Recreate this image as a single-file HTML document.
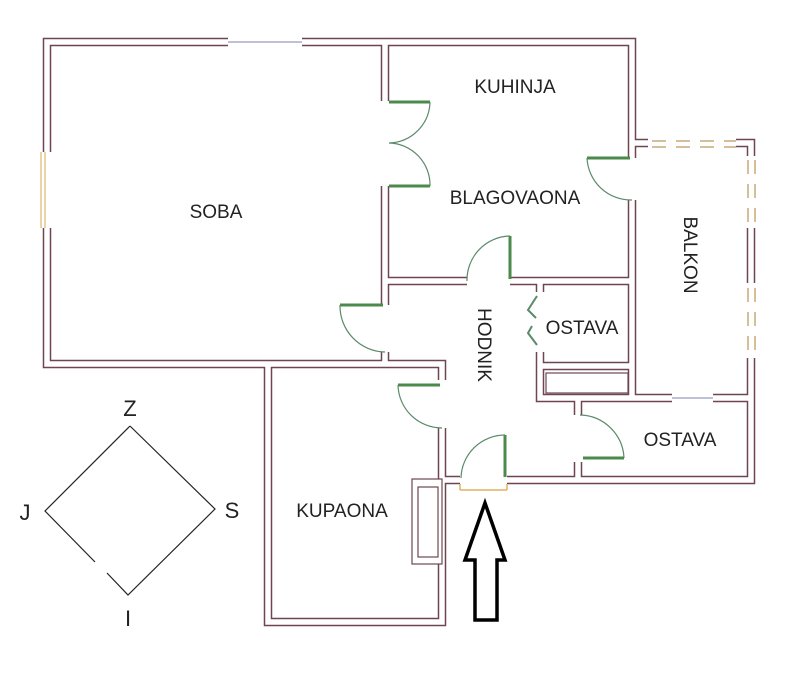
<!DOCTYPE html>
<html><head><meta charset="utf-8"><style>
html,body{margin:0;padding:0;background:#fff;}
svg{display:block;}
text{font-family:"Liberation Sans","DejaVu Sans",sans-serif;fill:#222;}
</style></head><body>
<svg width="800" height="690" viewBox="0 0 800 690" xmlns="http://www.w3.org/2000/svg">
<rect width="800" height="690" fill="#fff"/>
<g fill="none" stroke-linejoin="miter" stroke-linecap="butt">
<g stroke="#6e4550" stroke-width="8.5">
<path d="M228,42 H47 V152 M47,228 V364 H442 V380 M442,428 V622 H268 V364"/>
<path d="M302,42 H632 V158 M632,143 H648 M632,200 V398"/>
<path d="M385,42 V101 M385,186 V305 M385,352 V364"/>
<path d="M385,281 H467 M510,281 H632"/>
<path d="M540,281 V292 M540,352 V398 H578 M540,366 H632"/>
<path d="M578,398 H672 M713,398 H751 V358 M751,398 V480 H507 M578,398 V415 M578,462 V480"/>
<path d="M460,480 H442"/>
<path d="M736,143 H751 V156 M751,228 V283"/>
</g>
<g stroke="#fff" stroke-width="5.5">
<path d="M228,42 H47 V152 M47,228 V364 H442 V380 M442,428 V622 H268 V364"/>
<path d="M302,42 H632 V158 M632,143 H648 M632,200 V398"/>
<path d="M385,42 V101 M385,186 V305 M385,352 V364"/>
<path d="M385,281 H467 M510,281 H632"/>
<path d="M540,281 V292 M540,352 V398 H578 M540,366 H632"/>
<path d="M578,398 H672 M713,398 H751 V358 M751,398 V480 H507 M578,398 V415 M578,462 V480"/>
<path d="M460,480 H442"/>
<path d="M736,143 H751 V156 M751,228 V283"/>
</g>
<rect x="546" y="373" width="82" height="20" stroke="#6e4550" stroke-width="1.2"/>
<rect x="412" y="479" width="30" height="85" fill="#fff" stroke="#6e4550" stroke-width="1.2"/>
<rect x="418" y="487" width="20" height="70" stroke="#6e4550" stroke-width="1.2"/>
<path d="M228,42 H302 M672,398 H713" stroke="#9a9ac0" stroke-width="1.2"/>
<path d="M41,152 V228 M45,152 V228" stroke="#e0b870" stroke-width="1.2"/>
<g stroke="#c8a878" stroke-width="1.5" stroke-dasharray="14,10">
<path d="M652,141 H736 M652,147 H736"/>
<path d="M748,160 V228 M755,160 V228 M748,288 V356 M755,288 V356"/>
</g>
<g stroke="#4a8a4a" stroke-width="3">
<path d="M389,102 H430 M389,186 H430 M587,158 H630 M510,236 V279 M398,385 H440 M340,305 H383 M583,458 H624 M505,435 V477"/>
</g>
<g stroke="#5a8a6a" stroke-width="1.2">
<path d="M430,102 A42,42 0 0 1 389,143 M430,186 A42,42 0 0 0 389,143"/>
<path d="M587,158 A44,44 0 0 0 632,200"/>
<path d="M510,236 A44,44 0 0 0 467,281"/>
<path d="M340,305 A46,46 0 0 0 385,352"/>
<path d="M398,385 A44,44 0 0 0 442,428"/>
<path d="M624,458 A45,45 0 0 0 580,415"/>
<path d="M505,435 A44,44 0 0 0 461,478"/>
<path d="M537,296 L528,310 L536,318 M537,345 L528,333 L532,326" stroke-width="2"/>
</g>
<path d="M460,490 H507 M460,484 V490 M507,484 V490" stroke="#e0b060" stroke-width="1.5"/>
<path d="M485,503 L465,560 L475,560 L475,620 L497,620 L497,560 L505,560 Z" stroke="#000" stroke-width="3.5"/>
<path d="M130,426 L215,509 L128,595 L107,573 M95,562 L45,511 L130,426" stroke="#222" stroke-width="1.2"/>
</g>
<g font-size="19">
<text x="216" y="218" text-anchor="middle">SOBA</text>
<text x="515" y="93" text-anchor="middle">KUHINJA</text>
<text x="515" y="204" text-anchor="middle">BLAGOVAONA</text>
<text x="582" y="334" text-anchor="middle">OSTAVA</text>
<text x="680" y="446" text-anchor="middle">OSTAVA</text>
<text x="342" y="517" text-anchor="middle">KUPAONA</text>
<text transform="translate(684,255) rotate(90)" text-anchor="middle">BALKON</text>
<text transform="translate(478,345) rotate(90)" text-anchor="middle">HODNIK</text>
</g>
<g font-size="22">
<text x="130" y="416" text-anchor="middle">Z</text>
<text x="232" y="518" text-anchor="middle">S</text>
<text x="128" y="626" text-anchor="middle">I</text>
<text x="25" y="520" text-anchor="middle">J</text>
</g>
</svg>
</body></html>
